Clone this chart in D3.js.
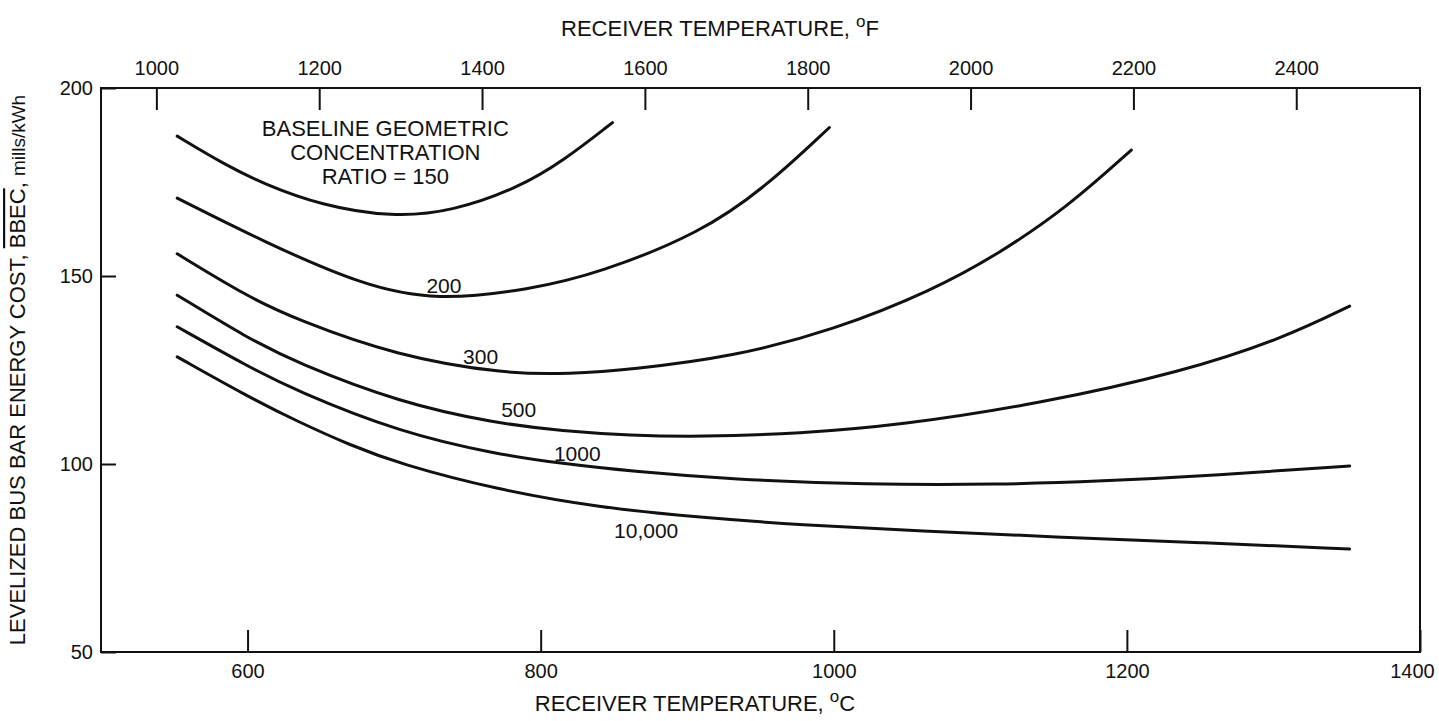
<!DOCTYPE html>
<html>
<head>
<meta charset="utf-8">
<script src="https://cdn.jsdelivr.net/npm/d3@7"></script>
<style>
  body { margin: 0; background: #fff; }
  svg text { font-family: "Liberation Sans", Arial, sans-serif; fill: #111; }
</style>
</head>
<body>
<svg id="chart" width="1439" height="721"></svg>
<script>
// receiver temperature (C) vs levelized bus bar energy cost (mills/kWh)
var ratio150 = [[552,187.2],[585,179.5],[611,174.5],[650,168.8],[699,165.6],[740,167.2],[785,173.5],[815,180.5],[849,190.8]];
var ratio200 = [[552,170.7],[611,159.1],[679,147.4],[729,143.4],[793,146.4],[840,150.8],[909,161.4],[954,173.8],[997,189.5]];
var ratio300 = [[552,155.9],[600,144.5],[633,138.5],[702,128.7],[777,123.9],[820,124.0],[861,125.1],[931,128.5],[1000,135.6],[1068,146.3],[1113,156],[1160,168.5],[1203,183.5]];
var ratio500 = [[552,144.9],[600,133.5],[633,127],[704,116.3],[770,110.8],[815,108.8],[861,107.6],[909,107.2],[977,108.1],[1045,110.3],[1140,116],[1238,124.5],[1307,133.5],[1352,142]];
var ratio1000 = [[552,136.5],[600,126],[633,119.5],[704,108.4],[770,102.6],[815,100.1],[861,98.1],[931,95.9],[1022,94.5],[1113,94.5],[1182,95.4],[1261,97.0],[1352,99.5]];
var ratio10000 = [[552,128.5],[600,118],[633,111.5],[670,105],[704,100],[770,93.2],[840,88.4],[909,85.8],[977,83.8],[1060,82.2],[1150,80.6],[1250,79.1],[1352,77.4]];

var series = [ratio150, ratio200, ratio300, ratio500, ratio1000, ratio10000];
var curveLabels = ["200", "300", "500", "1000", "10,000"];
var curveLabelAt = [[734,147.6],[759,128.5],[785,114.4],[825,102.8],[872,82.4]];
var noteLines = ["BASELINE GEOMETRIC", "CONCENTRATION", "RATIO = 150"];
var noteAt = [694, 189.3, 6.4]; // temp, first line cost, cost step between lines

var cTicks = [600, 800, 1000, 1200, 1400];
var fTicks = [1000, 1200, 1400, 1600, 1800, 2000, 2200, 2400];
var yTicks = [50, 100, 150, 200];

var pLeft = 101, pRight = 1420, pTop = 88, pBottom = 652;

var svg = d3.select("#chart");

var x = d3.scaleLinear().domain([500, 1400]).range([pLeft, pRight]);
var xF = d3.scaleLinear().domain([500 * 9 / 5 + 32, 1400 * 9 / 5 + 32]).range([pLeft, pRight]);
var y = d3.scaleLinear().domain([50, 200]).range([pBottom, pTop]);

// frame
svg.append("rect")
  .attr("x", pLeft).attr("y", pTop)
  .attr("width", pRight - pLeft).attr("height", pBottom - pTop)
  .attr("fill", "none").attr("stroke", "#111").attr("stroke-width", 2);

function styleAxis(g) {
  g.select(".domain").remove();
  g.selectAll(".tick line").attr("stroke", "#111").attr("stroke-width", 2);
  g.selectAll(".tick text").attr("font-size", "20px").attr("fill", "#111")
    .attr("font-family", "Liberation Sans, Arial, sans-serif");
}

var xAxisG = svg.append("g")
  .attr("transform", "translate(0," + pBottom + ")")
  .call(d3.axisBottom(x).tickValues(cTicks).tickSize(-22).tickPadding(12).tickFormat(d3.format("d")))
  .call(styleAxis);
// last label sits on the frame edge, keep it inside the picture
xAxisG.selectAll(".tick text").filter(function(d) { return d === 1400; }).attr("dx", -8);

svg.append("g")
  .attr("transform", "translate(0," + pTop + ")")
  .call(d3.axisTop(xF).tickValues(fTicks).tickSize(-22).tickPadding(13).tickFormat(d3.format("d")))
  .call(styleAxis);

svg.append("g")
  .attr("transform", "translate(" + pLeft + ",0)")
  .call(d3.axisLeft(y).tickValues(yTicks).tickSize(-15).tickPadding(8).tickFormat(d3.format("d")))
  .call(styleAxis);

// curves
var line = d3.line()
  .x(function(d) { return x(d[0]); })
  .y(function(d) { return y(d[1]); })
  .curve(d3.curveBasis);

svg.selectAll(".curve")
  .data(series)
  .enter().append("path")
  .attr("class", "curve")
  .attr("fill", "none")
  .attr("stroke", "#111")
  .attr("stroke-width", 3)
  .attr("stroke-linecap", "round")
  .attr("d", line);

svg.selectAll(".clabel")
  .data(curveLabels)
  .enter().append("text")
  .attr("class", "clabel")
  .attr("text-anchor", "middle")
  .attr("dominant-baseline", "central")
  .attr("font-size", "21px")
  .attr("x", function(d, i) { return x(curveLabelAt[i][0]); })
  .attr("y", function(d, i) { return y(curveLabelAt[i][1]); })
  .text(function(d) { return d; });

svg.selectAll(".note")
  .data(noteLines)
  .enter().append("text")
  .attr("class", "note")
  .attr("text-anchor", "middle")
  .attr("dominant-baseline", "central")
  .attr("font-size", "22px")
  .attr("x", x(noteAt[0]))
  .attr("y", function(d, i) { return y(noteAt[1] - i * noteAt[2]); })
  .text(function(d) { return d; });

// axis titles
function tempTitle(xPos, yPos, unit) {
  var t = svg.append("text")
    .attr("x", xPos).attr("y", yPos)
    .attr("text-anchor", "middle")
    .attr("font-size", "22px");
  t.append("tspan").text("RECEIVER TEMPERATURE,  ");
  t.append("tspan").attr("font-size", "17px").attr("dy", -9).text("o");
  t.append("tspan").attr("dy", 9).text(unit);
}
tempTitle(720, 36, "F");
tempTitle(695, 711, "C");

var yt = svg.append("text")
  .attr("transform", "translate(25,370) rotate(-90)")
  .attr("text-anchor", "middle")
  .attr("font-size", "22px");
yt.append("tspan").text("LEVELIZED BUS BAR ENERGY COST,  ");
yt.append("tspan").attr("style", "text-decoration: overline").text("BBEC");
yt.append("tspan").text(",  ");
yt.append("tspan").attr("font-size", "19px").text("mills/kWh");
</script>
</body>
</html>
